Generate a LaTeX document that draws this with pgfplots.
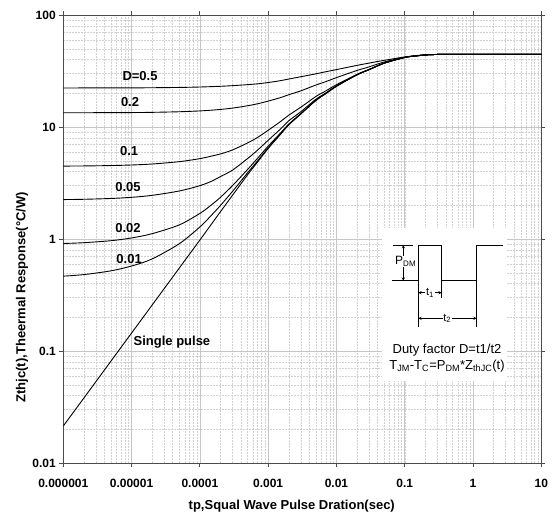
\documentclass[border=0pt]{standalone}
\usepackage{fontspec}
\setmainfont{Liberation Sans}
\usepackage{pgfplots}
\pgfplotsset{compat=1.18}
\pgfplotsset{curve/.style={black, solid, line width=0.9pt, smooth, tension=0.5, mark=none}}
\begin{document}
\begin{tikzpicture}[x=1pt,y=1pt]
\begin{axis}[
 at={(0,0)}, anchor=south west,
 scale only axis, width=478pt, height=448pt,
 xmode=log, ymode=log,
 xmin=1e-6, xmax=10, ymin=0.01, ymax=100,
 xtick={1e-6,1e-5,1e-4,1e-3,1e-2,1e-1,1,10},
 xticklabels={0.000001,0.00001,0.0001,0.001,0.01,0.1,1,10},
 ytick={0.01,0.1,1,10,100},
 yticklabels={0.01,0.1,1,10,100},
 grid=both,
 major grid style={black!22, line width=0.6pt},
 minor grid style={black!18, dash pattern=on 2pt off 1pt, line width=0.4pt},
 tick align=outside, major tick length=4pt, minor tick length=0pt,
 axis line style={black!70, line width=0.8pt},
 tick style={black!70, line width=0.8pt},
 ticklabel style={font=\fontsize{12}{14}\selectfont\bfseries},
 xticklabel style={yshift=-9pt},
 /pgf/number format/assume math mode=true,
 xlabel={tp,Squal Wave Pulse Dration(sec)},
 ylabel={Zthjc(t),Theermal Response(°C/W)},
 label style={font=\fontsize{13}{15}\selectfont\bfseries},
 xlabel style={at={(axis description cs:0.478,-0.096)}, anchor=center},
 ylabel style={at={(axis description cs:-0.0864,0.37)}, anchor=center},
 clip=true,
]
% Single pulse
\addplot[curve] coordinates {(1e-6,0.0214) (2e-6,0.0380) (5e-6,0.0814) (1e-5,0.1447) (2e-5,0.2572) (5e-5,0.5506) (1e-4,0.9783) (1.5e-4,1.3755) (2e-4,1.7513) (3e-4,2.452) (5e-4,3.746) (7e-4,4.870) (1e-3,6.432) (1.5e-3,8.542) (2e-3,10.449) (3e-3,13.06) (5e-3,17.29) (7e-3,19.92) (1e-2,23.13) (2e-2,29.28) (3e-2,32.53) (5e-2,37.16) (0.1,41.81) (0.15,43.19) (0.2,44.0) (0.3,44.45) (0.5,44.6) (1,44.6) (10,44.6)};
% D=0.01
\addplot[curve] coordinates {(1e-6,0.466) (2e-6,0.481) (5e-6,0.520) (1e-5,0.574) (2e-5,0.664) (5e-5,0.908) (1e-4,1.281) (1.5e-4,1.646) (2e-4,1.992) (3e-4,2.657) (5e-4,3.900) (7e-4,4.989) (1e-3,6.512) (1.5e-3,8.591) (2e-3,10.475) (3e-3,13.065) (5e-3,17.29) (7e-3,19.92) (1e-2,23.13) (2e-2,29.28) (3e-2,32.53) (5e-2,37.16) (0.1,41.81) (0.15,43.19) (0.2,44.0) (0.3,44.45) (0.5,44.6) (1,44.6) (10,44.6)};
% D=0.02
\addplot[curve] coordinates {(1e-6,0.912) (2e-6,0.927) (5e-6,0.966) (1e-5,1.022) (2e-5,1.116) (5e-5,1.337) (1e-4,1.692) (1.5e-4,2.030) (2e-4,2.356) (3e-4,2.994) (5e-4,4.179) (7e-4,5.261) (1e-3,6.741) (1.5e-3,8.773) (2e-3,10.609) (3e-3,13.157) (5e-3,17.313) (7e-3,19.925) (1e-2,23.13) (2e-2,29.28) (3e-2,32.53) (5e-2,37.16) (0.1,41.81) (0.15,43.19) (0.2,44.0) (0.3,44.45) (0.5,44.6) (1,44.6) (10,44.6)};
% D=0.05
\addplot[curve] coordinates {(1e-6,2.249) (2e-6,2.263) (5e-6,2.301) (1e-5,2.356) (2e-5,2.454) (5e-5,2.684) (1e-4,2.994) (1.5e-4,3.290) (2e-4,3.612) (3e-4,4.116) (5e-4,5.231) (7e-4,6.215) (1e-3,7.608) (1.5e-3,9.540) (2e-3,11.351) (3e-3,13.677) (5e-3,17.672) (7e-3,20.162) (1e-2,23.253) (2e-2,29.296) (3e-2,32.53) (5e-2,37.16) (0.1,41.81) (0.15,43.19) (0.2,44.0) (0.3,44.45) (0.5,44.6) (1,44.6) (10,44.6)};
% D=0.1
\addplot[curve] coordinates {(1e-6,4.478) (2e-6,4.491) (5e-6,4.527) (1e-5,4.580) (2e-5,4.673) (5e-5,4.905) (1e-4,5.218) (1.5e-4,5.512) (2e-4,5.744) (3e-4,6.238) (5e-4,7.213) (7e-4,8.071) (1e-3,9.347) (1.5e-3,11.133) (2e-3,12.745) (3e-3,15.002) (5e-3,18.726) (7e-3,21.022) (1e-2,23.861) (2e-2,29.512) (3e-2,32.562) (5e-2,37.16) (0.1,41.81) (0.15,43.19) (0.2,44.0) (0.3,44.45) (0.5,44.6) (1,44.6) (10,44.6)};
% D=0.2
\addplot[curve] coordinates {(1e-6,13.392) (1e-5,13.46) (2e-5,13.521) (5e-5,13.684) (1e-4,13.92) (1.5e-4,14.142) (2e-4,14.351) (3e-4,14.744) (5e-4,15.476) (7e-4,16.12) (1e-3,17.025) (1.5e-3,18.269) (2e-3,19.414) (3e-3,21.017) (5e-3,23.70) (7e-3,25.428) (1e-2,27.599) (2e-2,31.974) (3e-2,34.414) (5e-2,38.072) (0.1,42.02) (0.15,43.265) (0.2,44.05) (0.3,44.45) (0.5,44.6) (1,44.6) (10,44.6)};
% D=0.5
\addplot[curve] coordinates {(1e-6,22.31) (1e-5,22.368) (2e-5,22.42) (5e-5,22.559) (1e-4,22.756) (2e-4,23.10) (3e-4,23.397) (5e-4,23.886) (7e-4,24.3) (1e-3,24.95) (1.5e-3,25.9) (2e-3,26.8) (3e-3,28.1) (5e-3,29.843) (7e-3,31.171) (1e-2,32.548) (2e-2,35.5) (3e-2,37.2) (5e-2,39.4) (0.1,42.2) (0.15,43.4) (0.2,44.1) (0.3,44.5) (0.5,44.6) (1,44.6) (10,44.6)};
\begin{scope}[every node/.style={font=\fontsize{13}{15}\selectfont\bfseries, inner sep=0pt}]
\node at (axis cs:1.33e-5,28.5) {D=0.5};
\node at (axis cs:9.5e-6,16.7) {0.2};
\node at (axis cs:9.2e-6,6.1) {0.1};
\node at (axis cs:8.85e-6,2.91) {0.05};
\node at (axis cs:8.85e-6,1.25) {0.02};
\node at (axis cs:9.2e-6,0.663) {0.01};
\node at (axis cs:3.9e-5,0.120) {Single pulse};
\end{scope}
\end{axis}
% inset
\fill[white] (318.7,82) rectangle (443.7,235);
\draw[black, line width=0.8pt] (328.4,182.3) -- (355,182.3) -- (355,218) -- (378.4,218) -- (378.4,182.3) -- (413.4,182.3) -- (413.4,218) -- (440,218);
\draw[black, line width=0.8pt] (330,218) -- (350,218);
\draw[black, line width=0.5pt, <->, >=stealth] (340,182.3) -- (340,218);
\node[fill=white, inner sep=0.6pt, font=\fontsize{12}{14}\selectfont] at (342.4,201.3) {P\textsubscript{DM}};
\draw[black, line width=0.5pt] (355,182.3) -- (355,136.3);
\draw[black, line width=0.5pt] (378.4,182.3) -- (378.4,164.7);
\draw[black, line width=0.5pt] (413.4,182.3) -- (413.4,136.3);
\draw[black, line width=0.5pt, <->, >=stealth] (355,170.3) -- (378.4,170.3);
\node[fill=white, inner sep=0.6pt, font=\fontsize{11}{13}\selectfont] at (366.7,170.3) {t\textsubscript{1}};
\draw[black, line width=0.5pt, <->, >=stealth] (355,144.7) -- (413.4,144.7);
\node[fill=white, inner sep=0.6pt, font=\fontsize{11}{13}\selectfont] at (384,144.7) {t\textsubscript{2}};
\node[font=\fontsize{13}{15}\selectfont, inner sep=0pt] at (383.7,113) {Duty factor D=t1/t2};
\node[font=\fontsize{13}{15}\selectfont, inner sep=0pt] at (383.7,97) {T\textsubscript{JM}-T\textsubscript{C}=P\textsubscript{DM}*Z\textsubscript{thJC}(t)};
\pgfresetboundingbox
\path[use as bounding box] (-63.3,-59) rectangle (491.7,463);
\end{tikzpicture}
\end{document}
